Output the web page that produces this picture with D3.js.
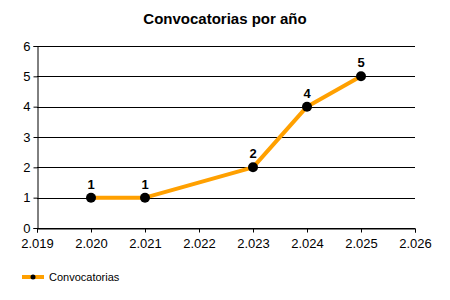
<!DOCTYPE html>
<html>
<head>
<meta charset="utf-8">
<script src="https://cdn.jsdelivr.net/npm/d3@7"></script>
<style>
body { margin: 0; background: #fff; }
text { font-family: "Liberation Sans", Arial, sans-serif; }
</style>
</head>
<body>
<div id="chart"></div>
<script>
var width = 450;
var height = 300;

// data
var years = [2020, 2021, 2023, 2024, 2025];
var counts = [1, 1, 2, 4, 5];
var xTicks = [2019, 2020, 2021, 2022, 2023, 2024, 2025, 2026];
var yTicks = [0, 1, 2, 3, 4, 5, 6];
var seriesName = "Convocatorias";

var es = d3.formatLocale({ decimal: ",", thousands: ".", grouping: [3], currency: ["", " €"] });
var fmtYear = es.format(",d");

var svg = d3.select("#chart").append("svg")
	.attr("width", width)
	.attr("height", height);

var xScale = d3.scaleLinear().domain([2019, 2026]).range([37, 415]);
var yScale = d3.scaleLinear().domain([0, 6]).range([228, 46]);

// title
svg.append("text")
	.attr("x", 225)
	.attr("y", 24)
	.attr("text-anchor", "middle")
	.style("font-size", "15px")
	.style("font-weight", "bold")
	.text("Convocatorias por año");

// gridlines
svg.append("g")
	.selectAll("line")
	.data(yTicks)
	.enter()
	.append("line")
	.attr("x1", xScale(2019))
	.attr("x2", xScale(2026))
	.attr("y1", d => Math.round(yScale(d)) + 0.5)
	.attr("y2", d => Math.round(yScale(d)) + 0.5)
	.attr("stroke", "#000")
	.attr("stroke-width", 1);

// y axis
var yAxis = d3.axisLeft(yScale).tickValues(yTicks).tickSize(4).tickPadding(3).tickFormat(d3.format("d"));
svg.append("g")
	.attr("transform", "translate(" + (xScale(2019) + 0.5) + ",0)")
	.call(yAxis)
	.call(g => g.selectAll("text").style("font-size", "13px").style("font-family", "Liberation Sans, Arial, sans-serif").attr("fill", "#000"))
	.call(g => g.select(".domain").attr("stroke", "#000"));

// x axis
var xAxis = d3.axisBottom(xScale).tickValues(xTicks).tickSize(4).tickPadding(6).tickFormat(fmtYear);
svg.append("g")
	.attr("transform", "translate(0," + (Math.round(yScale(0)) + 0.5) + ")")
	.call(xAxis)
	.call(g => g.selectAll("text").style("font-size", "13px").style("font-family", "Liberation Sans, Arial, sans-serif").attr("fill", "#000"))
	.call(g => g.select(".domain").attr("stroke", "#000"));

// line
var points = years.map((y, i) => ({ year: y, value: counts[i] }));
var line = d3.line()
	.x(d => xScale(d.year))
	.y(d => yScale(d.value));

svg.append("path")
	.datum(points)
	.attr("d", line)
	.attr("fill", "none")
	.attr("stroke", "#FFA000")
	.attr("stroke-width", 4)
	.attr("stroke-linejoin", "round");

// markers
svg.selectAll("circle.pt")
	.data(points)
	.enter()
	.append("circle")
	.attr("class", "pt")
	.attr("cx", d => xScale(d.year))
	.attr("cy", d => yScale(d.value))
	.attr("r", 5)
	.attr("fill", "#000");

// labels
svg.selectAll("text.lbl")
	.data(points)
	.enter()
	.append("text")
	.attr("class", "lbl")
	.attr("x", d => xScale(d.year))
	.attr("y", d => yScale(d.value) - 9)
	.attr("text-anchor", "middle")
	.style("font-size", "13px")
	.style("font-weight", "bold")
	.text(d => d.value);

// legend
svg.append("line")
	.attr("x1", 22).attr("x2", 44)
	.attr("y1", 277).attr("y2", 277)
	.attr("stroke", "#FFA000")
	.attr("stroke-width", 4);
svg.append("circle")
	.attr("cx", 33).attr("cy", 277).attr("r", 2.5)
	.attr("fill", "#000");
svg.append("text")
	.attr("x", 49)
	.attr("y", 281)
	.style("font-size", "11px")
	.text(seriesName);
</script>
</body>
</html>
